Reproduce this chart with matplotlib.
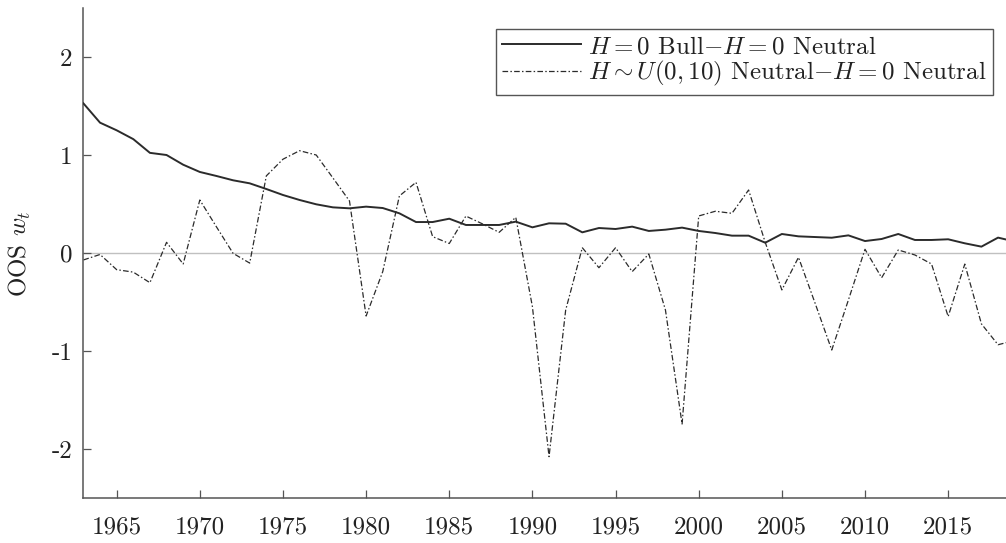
import matplotlib
matplotlib.use("Agg")
import matplotlib.pyplot as plt

plt.rcParams['font.family'] = 'cmr10'
plt.rcParams['mathtext.fontset'] = 'cm'
plt.rcParams['axes.unicode_minus'] = False

years = list(range(1963, 2020))

bull_minus_neutral = [
    1.53, 1.333, 1.255, 1.165, 1.025, 1.003, 0.904, 0.830, 0.789, 0.745,
    0.714, 0.656, 0.595, 0.544, 0.500, 0.469, 0.459, 0.476, 0.462, 0.408,
    0.319, 0.319, 0.353, 0.289, 0.289, 0.289, 0.323, 0.265, 0.306, 0.302,
    0.214, 0.258, 0.248, 0.272, 0.228, 0.241, 0.262, 0.228, 0.207, 0.180,
    0.180, 0.108, 0.197, 0.173, 0.166, 0.159, 0.183, 0.125, 0.146, 0.197,
    0.136, 0.136, 0.143, 0.102, 0.068, 0.160, 0.12,
]

uniform_minus_neutral = [
    -0.068, -0.012, -0.167, -0.192, -0.300, 0.112, -0.109, 0.544, 0.270, 0.000,
    -0.100, 0.790, 0.960, 1.047, 1.003, 0.770, 0.534, -0.640, -0.187, 0.585,
    0.724, 0.170, 0.100, 0.380, 0.300, 0.214, 0.367, -0.545, -2.075, -0.579,
    0.057, -0.147, 0.057, -0.187, -0.007, -0.579, -1.742, 0.381, 0.429, 0.408,
    0.646, 0.112, -0.374, -0.041, -0.510, -0.987, -0.477, 0.041, -0.249, 0.034,
    -0.017, -0.109, -0.645, -0.110, -0.720, -0.933, -0.89,
]

series_labels = [
    r'$H=0$ Bull$-H=0$ Neutral',
    r'$H\sim U(0,10)$ Neutral$-H=0$ Neutral',
]

xtick_values = [1965, 1970, 1975, 1980, 1985, 1990, 1995, 2000, 2005, 2010, 2015]
xtick_labels = [str(v) for v in xtick_values]
ytick_values = [-2, -1, 0, 1, 2]
ytick_labels = ['-2', '-1', '0', '1', '2']
y_label = r'OOS $w_t$'

FS = 18
W, H = 1006, 543
fig = plt.figure(figsize=(W / 100, H / 100), dpi=100)
left_px, right_px, top_px, bot_px = 83.4, 1006.0, 8.3, 498.3
ax = fig.add_axes([left_px / W, 1 - bot_px / H, (right_px - left_px) / W, (bot_px - top_px) / H])

ax.axhline(0, color='#c0c0c0', lw=1.0, zorder=1)
ax.plot(years, bull_minus_neutral, color='#2b2b2b', lw=1.4, ls='-', label=series_labels[0], zorder=3)
ax.plot(years, uniform_minus_neutral, color='#2b2b2b', lw=0.9, ls=(0, (4.5, 1.8, 1.2, 1.8)),
        label=series_labels[1], zorder=2)

ax.set_xlim(1963, 1963 + (right_px - left_px) / 16.63)
ax.set_ylim(-2.5, 2.5)
ax.set_xticks(xtick_values)
ax.set_xticklabels(xtick_labels)
ax.set_yticks(ytick_values)
ax.set_yticklabels(ytick_labels)

for s in ['top', 'right']:
    ax.spines[s].set_visible(False)
for s in ['left', 'bottom']:
    ax.spines[s].set_color('#555555')
    ax.spines[s].set_linewidth(1.1)

ax.tick_params(axis='both', direction='in', length=6, width=0.9, color='#555555',
               labelsize=FS, labelcolor='#222222')
ax.tick_params(axis='x', pad=13)
ax.tick_params(axis='y', pad=8)

ax.set_ylabel(y_label, fontsize=FS, color='#222222', labelpad=13)

leg = ax.legend(loc='upper right', bbox_to_anchor=(993.3 / W, 1 - 29.3 / H),
                bbox_transform=fig.transFigure, borderaxespad=0, fontsize=FS,
                handlelength=3.15, handletextpad=0.3, borderpad=0.25, labelspacing=0.05,
                fancybox=False, framealpha=1, edgecolor='#555555')
leg.get_frame().set_linewidth(1.0)
for t in leg.get_texts():
    t.set_color('#222222')

fig.savefig('out.png', dpi=100)
